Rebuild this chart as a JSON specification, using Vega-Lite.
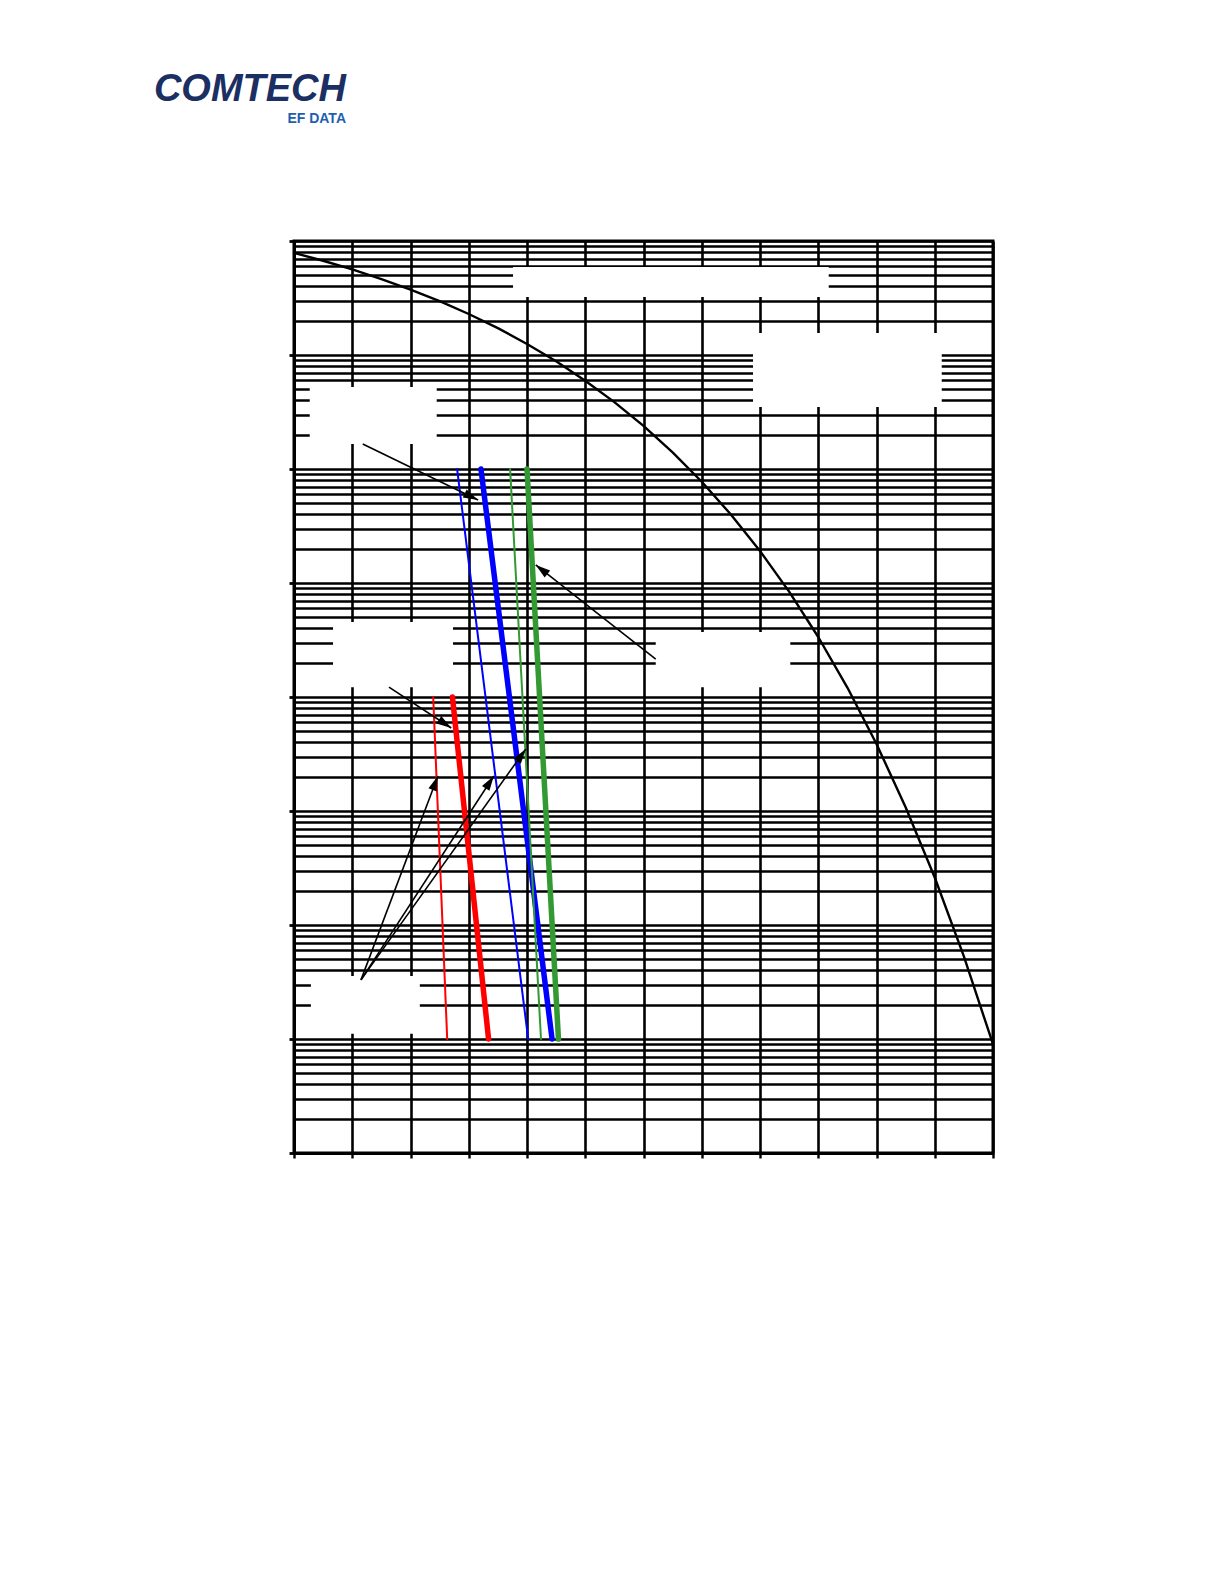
{
  "$schema": "https://vega.github.io/schema/vega-lite/v6.json",
  "width": 699,
  "height": 912,
  "autosize": {"type": "none"},
  "padding": {"left": 294, "top": 241, "right": 231, "bottom": 431},
  "background": "white",
  "title": {
    "text": "COMTECH",
    "subtitle": "EF DATA",
    "anchor": "start",
    "align": "right",
    "frame": "group",
    "dx": 52,
    "offset": 114,
    "font": "Liberation Sans",
    "fontSize": 38,
    "fontStyle": "italic",
    "fontWeight": "bold",
    "color": "#1b2f63",
    "subtitleFont": "Liberation Sans",
    "subtitleFontSize": 14,
    "subtitleFontWeight": "bold",
    "subtitleColor": "#1f5fae",
    "subtitlePadding": 3
  },
  "config": {
    "view": {"stroke": "black", "strokeWidth": 3},
    "axis": {"labels": false}
  },
  "datasets": {
    "boxes": [
      {"x0": 3.76, "x1": 9.18, "y0": 0.0591, "y1": 0.0323},
      {"x0": 7.88, "x1": 11.12, "y0": 0.0156, "y1": 0.0035},
      {"x0": 0.27, "x1": 2.45, "y0": 0.00524, "y1": 0.00166},
      {"x0": 0.67, "x1": 2.73, "y0": 4.55e-5, "y1": 1.22e-5},
      {"x0": 6.21, "x1": 8.52, "y0": 3.72e-5, "y1": 1.22e-5},
      {"x0": 0.29, "x1": 2.16, "y0": 3.57e-8, "y1": 1.11e-8}
    ],
    "curves": [
      {"series": "Uncoded BPSK/QPSK", "ebno": 0, "ber": 0.0786},
      {"series": "Uncoded BPSK/QPSK", "ebno": 0.5, "ber": 0.0671},
      {"series": "Uncoded BPSK/QPSK", "ebno": 1, "ber": 0.0563},
      {"series": "Uncoded BPSK/QPSK", "ebno": 1.5, "ber": 0.0464},
      {"series": "Uncoded BPSK/QPSK", "ebno": 2, "ber": 0.0375},
      {"series": "Uncoded BPSK/QPSK", "ebno": 2.5, "ber": 0.0297},
      {"series": "Uncoded BPSK/QPSK", "ebno": 3, "ber": 0.0229},
      {"series": "Uncoded BPSK/QPSK", "ebno": 3.5, "ber": 0.0172},
      {"series": "Uncoded BPSK/QPSK", "ebno": 4, "ber": 0.0125},
      {"series": "Uncoded BPSK/QPSK", "ebno": 4.5, "ber": 0.0088},
      {"series": "Uncoded BPSK/QPSK", "ebno": 5, "ber": 0.00595},
      {"series": "Uncoded BPSK/QPSK", "ebno": 5.5, "ber": 0.00386},
      {"series": "Uncoded BPSK/QPSK", "ebno": 6, "ber": 0.00239},
      {"series": "Uncoded BPSK/QPSK", "ebno": 6.5, "ber": 0.0014},
      {"series": "Uncoded BPSK/QPSK", "ebno": 7, "ber": 0.000773},
      {"series": "Uncoded BPSK/QPSK", "ebno": 7.5, "ber": 0.000399},
      {"series": "Uncoded BPSK/QPSK", "ebno": 8, "ber": 0.000191},
      {"series": "Uncoded BPSK/QPSK", "ebno": 8.5, "ber": 8.4e-5},
      {"series": "Uncoded BPSK/QPSK", "ebno": 9, "ber": 3.36e-5},
      {"series": "Uncoded BPSK/QPSK", "ebno": 9.5, "ber": 1.21e-5},
      {"series": "Uncoded BPSK/QPSK", "ebno": 10, "ber": 3.87e-6},
      {"series": "Uncoded BPSK/QPSK", "ebno": 10.5, "ber": 1.08e-6},
      {"series": "Uncoded BPSK/QPSK", "ebno": 11, "ber": 2.61e-7},
      {"series": "Uncoded BPSK/QPSK", "ebno": 11.5, "ber": 5.3e-8},
      {"series": "Uncoded BPSK/QPSK", "ebno": 12, "ber": 9.0e-9},
      {"series": "Code A-1", "ebno": 2.39, "ber": 1e-5},
      {"series": "Code A-1", "ebno": 2.63, "ber": 1e-8},
      {"series": "Code A-2", "ebno": 2.72, "ber": 1e-5},
      {"series": "Code A-2", "ebno": 3.34, "ber": 1e-8},
      {"series": "Code B-1", "ebno": 2.8, "ber": 1e-3},
      {"series": "Code B-1", "ebno": 4.02, "ber": 1e-8},
      {"series": "Code B-2", "ebno": 3.21, "ber": 1e-3},
      {"series": "Code B-2", "ebno": 4.43, "ber": 1e-8},
      {"series": "Code C-1", "ebno": 3.71, "ber": 1e-3},
      {"series": "Code C-1", "ebno": 4.24, "ber": 1e-8},
      {"series": "Code C-2", "ebno": 4.0, "ber": 1e-3},
      {"series": "Code C-2", "ebno": 4.54, "ber": 1e-8}
    ],
    "arrows": [
      {"fx": 1.18, "fy": 0.00166, "tx": 3.16, "ty": 0.000535},
      {"fx": 1.63, "fy": 1.22e-5, "tx": 2.7, "ty": 5.35e-6},
      {"fx": 6.21, "fy": 2.15e-5, "tx": 4.15, "ty": 0.000144},
      {"fx": 1.15, "fy": 3.3e-8, "tx": 2.47, "ty": 2.03e-6},
      {"fx": 1.15, "fy": 3.3e-8, "tx": 3.43, "ty": 2.03e-6},
      {"fx": 1.15, "fy": 3.3e-8, "tx": 3.98, "ty": 3.5e-6}
    ]
  },
  "layer": [
    {
      "data": {"name": "boxes"},
      "mark": {"type": "rect", "fill": "white", "strokeWidth": 0},
      "encoding": {
        "x": {
          "field": "x0", "type": "quantitative",
          "scale": {"domain": [0, 12], "nice": false, "zero": false},
          "axis": {
            "title": null,
            "values": [0, 1, 2, 3, 4, 5, 6, 7, 8, 9, 10, 11, 12],
            "grid": true, "gridColor": "black", "gridWidth": 2.6, "gridOpacity": 1,
            "labels": false,
            "ticks": true, "tickSize": 5, "tickColor": "black", "tickWidth": 2.4,
            "domain": true, "domainColor": "black", "domainWidth": 3
          }
        },
        "x2": {"field": "x1"},
        "y": {
          "field": "y0", "type": "quantitative",
          "scale": {"type": "log", "domain": [1e-9, 0.1], "nice": false},
          "axis": {
            "title": null,
            "values": [1e-9, 2e-9, 3e-9, 4e-9, 5e-9, 6e-9, 7e-9, 8e-9, 9e-9,
                       1e-8, 2e-8, 3e-8, 4e-8, 5e-8, 6e-8, 7e-8, 8e-8, 9e-8,
                       1e-7, 2e-7, 3e-7, 4e-7, 5e-7, 6e-7, 7e-7, 8e-7, 9e-7,
                       1e-6, 2e-6, 3e-6, 4e-6, 5e-6, 6e-6, 7e-6, 8e-6, 9e-6,
                       1e-5, 2e-5, 3e-5, 4e-5, 5e-5, 6e-5, 7e-5, 8e-5, 9e-5,
                       1e-4, 2e-4, 3e-4, 4e-4, 5e-4, 6e-4, 7e-4, 8e-4, 9e-4,
                       1e-3, 2e-3, 3e-3, 4e-3, 5e-3, 6e-3, 7e-3, 8e-3, 9e-3,
                       1e-2, 2e-2, 3e-2, 4e-2, 5e-2, 6e-2, 7e-2, 8e-2, 9e-2, 0.1],
            "grid": true, "gridColor": "black", "gridWidth": 2.6, "gridOpacity": 1,
            "labels": false,
            "ticks": true, "tickSize": 5, "tickColor": "black", "tickWidth": 2.8,
            "tickOpacity": {
              "condition": {"test": "abs(log(datum.value)/LN10 - round(log(datum.value)/LN10)) < 0.01", "value": 1},
              "value": 0
            },
            "domain": true, "domainColor": "black", "domainWidth": 3
          }
        },
        "y2": {"field": "y1"}
      }
    },
    {
      "data": {"name": "curves"},
      "mark": {"type": "line", "strokeCap": "round", "strokeJoin": "round"},
      "encoding": {
        "x": {"field": "ebno", "type": "quantitative", "axis": {"title": null}},
        "y": {"field": "ber", "type": "quantitative", "axis": {"title": null}},
        "color": {
          "field": "series", "type": "nominal", "legend": null,
          "scale": {
            "domain": ["Uncoded BPSK/QPSK", "Code A-1", "Code A-2", "Code B-1", "Code B-2", "Code C-1", "Code C-2"],
            "range": ["#000000", "#ff0000", "#ff0000", "#0000ff", "#0000ff", "#339933", "#339933"]
          }
        },
        "strokeWidth": {
          "field": "series", "type": "nominal", "legend": null,
          "scale": {
            "type": "ordinal",
            "domain": ["Uncoded BPSK/QPSK", "Code A-1", "Code A-2", "Code B-1", "Code B-2", "Code C-1", "Code C-2"],
            "range": [2.4, 2, 5.5, 2, 5.5, 2, 5.5]
          }
        }
      }
    },
    {
      "data": {"name": "arrows"},
      "mark": {"type": "rule", "color": "black", "strokeWidth": 1.6},
      "encoding": {
        "x": {"field": "fx", "type": "quantitative", "axis": {"title": null}},
        "y": {"field": "fy", "type": "quantitative", "axis": {"title": null}},
        "x2": {"field": "tx"},
        "y2": {"field": "ty"}
      }
    },
    {
      "data": {"name": "arrows"},
      "mark": {
        "type": "point",
        "shape": "M0,0L0.6,2L-0.6,2Z",
        "filled": true,
        "color": "black",
        "opacity": 1,
        "size": 220,
        "strokeWidth": 0,
        "angle": {"expr": "atan2(scale('x', datum.tx) - scale('x', datum.fx), scale('y', datum.fy) - scale('y', datum.ty)) * 180 / PI"}
      },
      "encoding": {
        "x": {"field": "tx", "type": "quantitative", "axis": {"title": null}},
        "y": {"field": "ty", "type": "quantitative", "axis": {"title": null}}
      }
    }
  ]
}
